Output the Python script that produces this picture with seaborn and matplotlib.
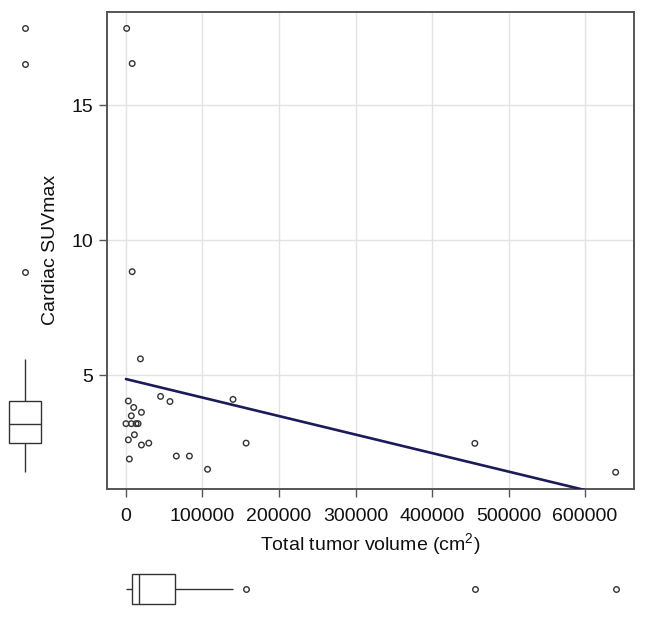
import numpy as np
import pandas as pd
import seaborn as sns
from matplotlib import pyplot as plt

sns.set_theme(style='whitegrid')
plt.rcParams['font.family'] = ['Liberation Sans', 'DejaVu Sans']
plt.rcParams['mathtext.fontset'] = 'custom'
plt.rcParams['mathtext.rm'] = 'Liberation Sans'

#%% data
tumor_volume = [18900, 3100, 10100, 20200, 7000, 0, 7000, 13200, 15800, 11000,
                3100, 20200, 29800, 4400, 45200, 57500, 139900, 65800, 82900,
                106600, 157000, 900, 8100, 8100, 456000, 640000]
suv_max = [5.60, 4.04, 3.80, 3.62, 3.49, 3.20, 3.20, 3.20, 3.20, 2.79,
           2.60, 2.41, 2.48, 1.89, 4.21, 4.02, 4.10, 2.00, 2.00,
           1.51, 2.48, 17.84, 16.54, 8.83, 2.47, 1.40]
x_ticks = [0, 100000, 200000, 300000, 400000, 500000, 600000]
y_ticks = [5, 10, 15]

df = pd.DataFrame({'volume': tumor_volume, 'suv': suv_max})

W, H = 646, 617
fig = plt.figure(figsize=(W / 100, H / 100), dpi=100)

# main panel position in pixels
left, right, top, bottom = 106.7, 634, 11.7, 489
ax = fig.add_axes([left / W, 1 - bottom / H, (right - left) / W, (bottom - top) / H])
ax_y = fig.add_axes([5 / W, 1 - bottom / H, 40 / W, (bottom - top) / H])
ax_x = fig.add_axes([left / W, 1 - 609 / H, (right - left) / W, 40 / H])

xlim = (-25200, 664000)
ylim = (0.78, 18.46)
edge = '#333333'
fs = 14

#%% main scatter + fit
sns.scatterplot(data=df, x='volume', y='suv', ax=ax, s=16, marker='o',
                facecolor='none', edgecolor=edge, linewidth=1.0, zorder=3)
sns.regplot(data=df, x='volume', y='suv', ax=ax, scatter=False, ci=None,
            line_kws=dict(color='#1b1b5a', lw=1.9, zorder=4))
ax.set_xlim(xlim)
ax.set_ylim(ylim)
ax.set_xticks(x_ticks)
ax.set_yticks(y_ticks)
ax.ticklabel_format(style='plain', axis='x')
ax.grid(color='#e3e3e3', lw=1)
for s in ax.spines.values():
    s.set_color('#555555')
    s.set_linewidth(1.4)
ax.tick_params(axis='both', which='major', length=6, width=1, color='#555555',
               labelsize=fs, labelcolor='#111111', bottom=True, left=True, pad=4)
ax.tick_params(axis='x', pad=7.5)
ax.set_xlabel(r'Total tumor volume (cm$^{2}$)', fontsize=fs, color='#111111', labelpad=5)
ax.set_ylabel('Cardiac SUVmax', fontsize=fs, color='#111111', labelpad=9)

#%% marginal boxplots
box_kw = dict(color='white', linecolor=edge, linewidth=1.0, fliersize=4,
              showcaps=False,
              flierprops=dict(marker='o', markerfacecolor='none',
                              markeredgecolor=edge, markeredgewidth=1.0))
sns.boxplot(y=df['suv'], ax=ax_y, width=0.78, **box_kw)
ax_y.set_ylim(ylim)
ax_y.set_xlim(-0.5, 0.5)
ax_y.axis('off')

sns.boxplot(x=df['volume'], ax=ax_x, width=0.75, **box_kw)
ax_x.set_xlim(xlim)
ax_x.set_ylim(0.5, -0.5)
ax_x.axis('off')

fig.savefig('out.png', dpi=100)
